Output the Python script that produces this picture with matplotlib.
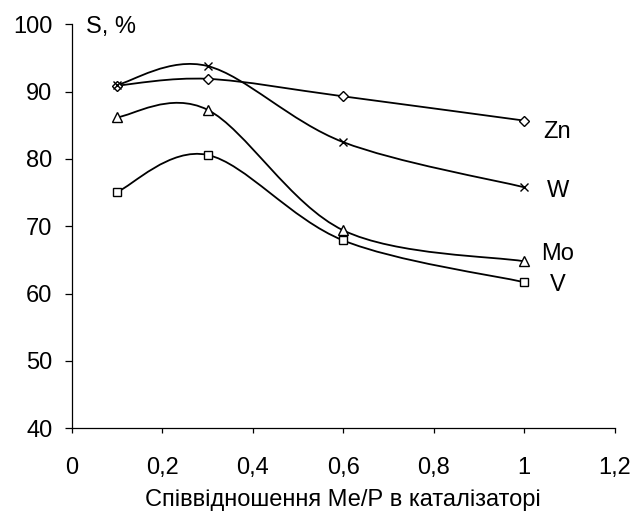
import numpy as np
import matplotlib
matplotlib.use("Agg")
import matplotlib.pyplot as plt
from matplotlib.path import Path
from matplotlib.patches import PathPatch

plt.rcParams['font.family'] = ['Liberation Sans', 'DejaVu Sans']

x = [0.1, 0.3, 0.6, 1.0]
zn = [90.9, 91.9, 89.3, 85.7]
w = [91.0, 93.8, 82.5, 75.8]
mo = [86.2, 87.3, 69.4, 64.8]
v = [75.1, 80.6, 67.9, 61.7]
series = [("Zn", zn, "D"), ("W", w, "x"), ("Mo", mo, "^"), ("V", v, "s")]
label_pos = {"Zn": 84.0, "W": 75.2, "Mo": 65.9, "V": 61.3}

xticks = [0, 0.2, 0.4, 0.6, 0.8, 1.0, 1.2]
xticklabels = ["0", "0,2", "0,4", "0,6", "0,8", "1", "1,2"]
yticks = [40, 50, 60, 70, 80, 90, 100]

FS = 17

fig = plt.figure(figsize=(6.35, 5.11), dpi=100)
# axes: x from 72 to 614.5 px, y from 24.3 to 428.3 px (top)
ax = fig.add_axes([72 / 635, 1 - 428.3 / 511, 542.5 / 635, 404 / 511])
ax.set_xlim(0, 1.2)
ax.set_ylim(40, 100)
for s in ["top", "right"]:
    ax.spines[s].set_visible(False)
for s in ["left", "bottom"]:
    ax.spines[s].set_linewidth(0.9)
ax.set_xticks(xticks)
ax.set_xticklabels(xticklabels)
ax.set_yticks(yticks)
ax.tick_params(direction="out", width=0.9, labelsize=FS)
ax.tick_params(axis="y", length=5, pad=9)
ax.tick_params(axis="x", length=3.6, pad=17)


def smooth_path(xs, ys):
    # Excel-like smoothed line: cubic Bezier with Catmull-Rom control points (display space)
    pts = ax.transData.transform(np.column_stack([xs, ys]))
    n = len(pts)
    verts = [pts[0]]
    codes = [Path.MOVETO]
    for i in range(n - 1):
        p0 = pts[i - 1] if i > 0 else pts[i]
        p1 = pts[i]
        p2 = pts[i + 1]
        p3 = pts[i + 2] if i + 2 < n else pts[i + 1]
        c1 = p1 + (p2 - p0) / 6.0
        c2 = p2 - (p3 - p1) / 6.0
        verts += [c1, c2, p2]
        codes += [Path.CURVE4] * 3
    verts = ax.transData.inverted().transform(np.array(verts))
    return Path(verts, codes)


for name, ys, mk in series:
    ax.add_patch(PathPatch(smooth_path(x, ys), fill=False, edgecolor="black", lw=1.3))
    ms = {"D": 5.0, "x": 6.0, "^": 6.5, "s": 5.5}[mk]
    ax.plot(x, ys, linestyle="none", marker=mk, markersize=ms, markerfacecolor="white",
            markeredgecolor="black", markeredgewidth=1.0, color="black")
    ax.text(1.074, label_pos[name], name, fontsize=FS, ha="center", va="center")

ax.text(0.031, 99.6, "S, %", fontsize=FS, ha="left", va="center")
ax.set_xlabel("Співвідношення Ме/Р в каталізаторі", fontsize=FS, labelpad=7)

fig.savefig("out.png", dpi=100)
